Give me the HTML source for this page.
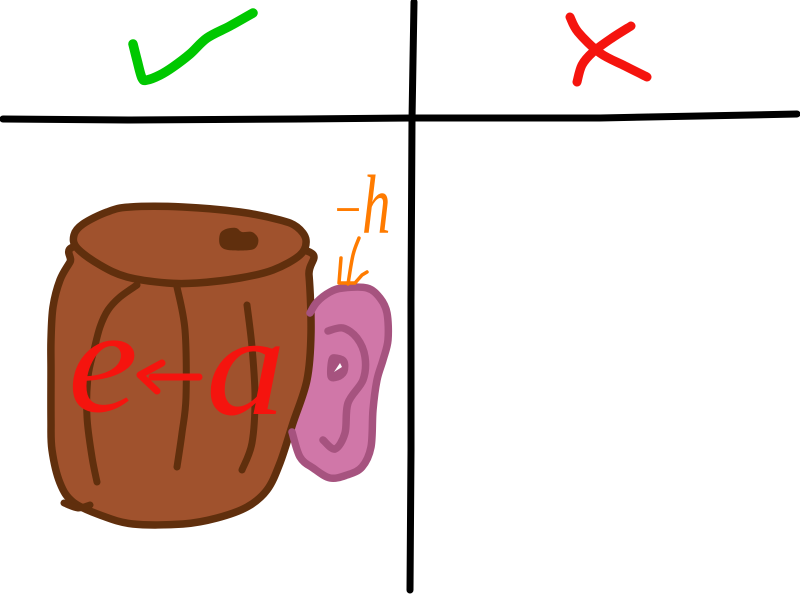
<!DOCTYPE html>
<html lang="en">
<head>
<meta charset="utf-8">
<title>Barrel and ear sketch</title>
<style>
html,body{margin:0;padding:0;background:#fff;width:800px;height:600px;overflow:hidden}
svg{display:block}
.s{fill:none;stroke-linecap:round;stroke-linejoin:round}
text{font-family:"Liberation Serif",serif;font-style:italic}
</style>
</head>
<body>
<svg width="800" height="600" viewBox="0 0 800 600">
<rect width="800" height="600" fill="#fff"/>

<path class="s" stroke="#000" stroke-width="7" d="M414 2L413 60L412 120L411 300L411 450L410 590"/>
<path class="s" stroke="#000" stroke-width="7" d="M3 119L130 120L300 119L412 118L600 118L700 116L797 114"/>

<path class="s curve" stroke="#00c800" stroke-width="9.5" d="M133 44L137 60L142 78L147 80L160 75L173 67L190 54L207 38L230 26L253 13"/>
<path class="s curve" stroke="#f5140e" stroke-width="9" d="M570 17L578 32L600 53L625 66L647 77"/>
<path class="s curve" stroke="#f5140e" stroke-width="9" d="M631 26L612 38L593 52L582 65L577 82"/>

<path class="curve" fill="#d077a8" d="M300 330L317 302L330 292L343 288L367 288L380 298L387 313L388 340L383 360L377 380L373 410L371 447L362 467L347 475L330 478L313 468L300 457L292 432L298 400Z"/>

<g>
<path class="curve" fill="#a0522d" stroke="#602f0d" stroke-width="7.5" stroke-linejoin="round" d="M80 245L70 262L60 280L53 307L51 340L51 370L51 420L52 450L60 483L73 502L100 515L133 524L183 524L217 518L247 507L267 490L280 463L293 423L307 380L311 333L309 275L304 250L190 240Z"/>
<path class="curve" fill="#a0522d" stroke="#602f0d" stroke-width="7.5" stroke-linejoin="round" d="M74 235L83 224L107 212L130 207L183 207L240 212L280 220L297 227L306 240L300 255L273 270L240 278L197 283L167 283L127 277L100 265L77 248Z"/>
<path class="curve" fill="#602f0d" d="M220 234L226 229L236 228L242 232L252 232L258 238L257 246L250 250L228 250L220 245Z"/>
<path class="s curve" stroke="#602f0d" stroke-width="7" d="M137 285L120 297L108 310L100 327L94 350L88 377L87 417L92 457L97 482"/>
<path class="s curve" stroke="#602f0d" stroke-width="7" d="M177 287L185 330L186 397L182 433L177 467"/>
<path class="s curve" stroke="#602f0d" stroke-width="7" d="M247 305L252 347L255 397L252 443L242 470"/>
<path class="s curve" stroke="#602f0d" stroke-width="7" d="M64 503L78 508L90 505"/>
</g>

<g>
<path class="s curve" stroke="#a6537f" stroke-width="7.5" d="M310 313L317 302L330 292L343 288L367 288L380 298L387 313L388 340L383 360L377 380L373 410L371 447L362 467L347 475L330 478L313 468L300 457L292 432"/>
<path class="s curve" stroke="#a6537f" stroke-width="7.5" d="M328 331L343 328L357 338L365 357L363 380L348 403L345 433L335 449L323 440"/>
<path class="curve" fill="#a6537f" stroke="#a6537f" stroke-width="5" stroke-linejoin="round" d="M331 359L337 357L345 361L345 372L338 378L330 377Z"/>
<path fill="#fff" d="M334 372L340 363L342 367Z"/>
</g>

<g fill="#f5140e">
<text transform="translate(68 411) scale(1.05 1)" font-size="150">e</text>
<text transform="translate(206 414) scale(1.1 1)" font-size="145">a</text>
</g>
<path class="s" stroke="#f5140e" stroke-width="7" d="M199 377L152 377"/>
<path class="s" stroke="#f5140e" stroke-width="7" d="M162 363L140 375L157 391"/>

<g fill="#ff7b00">
<text transform="translate(334 219) scale(1.5 0.7)" font-size="56">-</text>
<text transform="translate(362 233) scale(0.68 1)" font-size="84">h</text>
</g>
<path class="s curve" stroke="#ff7b00" stroke-width="3.5" d="M359 238L353 255L348 284"/>
<path class="s" stroke="#ff7b00" stroke-width="3.5" d="M341 258L339 283L355 283L362 275L367 272"/>
</svg>
<script>
document.querySelectorAll('path.curve').forEach(function (path) {
  var d = path.getAttribute('d');
  var closed = /Z/.test(d);
  var n = d.match(/-?\d+(\.\d+)?/g).map(Number);
  var p = [];
  for (var i = 0; i < n.length; i += 2) p.push([n[i], n[i + 1]]);
  var len = p.length;
  function at(i) {
    if (closed) return p[(i + len) % len];
    return p[Math.max(0, Math.min(len - 1, i))];
  }
  var out = 'M' + p[0][0] + ' ' + p[0][1];
  var segs = closed ? len : len - 1;
  for (var k = 0; k < segs; k++) {
    var a = at(k - 1), b = at(k), c = at(k + 1), e = at(k + 2);
    out += 'C' + (b[0] + (c[0] - a[0]) / 6) + ' ' + (b[1] + (c[1] - a[1]) / 6) + ' ' +
      (c[0] - (e[0] - b[0]) / 6) + ' ' + (c[1] - (e[1] - b[1]) / 6) + ' ' + c[0] + ' ' + c[1];
  }
  if (closed) out += 'Z';
  path.setAttribute('d', out);
});
</script>
</body>
</html>
